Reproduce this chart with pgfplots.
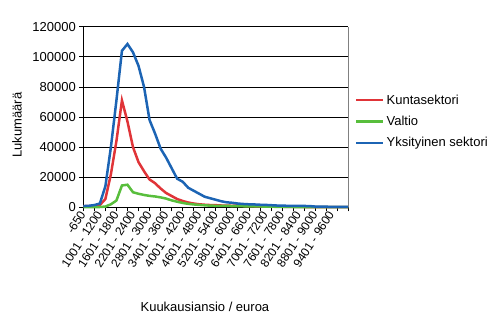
\documentclass[border=0pt]{standalone}
\usepackage{fontspec}
\setmainfont{Liberation Sans}
\usepackage{pgfplots}
\pgfplotsset{compat=1.18}
\usepackage{pgfplotstable}
\definecolor{cred}{RGB}{224,52,56}
\definecolor{cgreen}{RGB}{88,190,60}
\definecolor{cblue}{RGB}{28,100,180}
\pgfplotstableread{
idx kunta valtio yks
0 800 100 800
1 700 100 1000
2 800 100 1500
3 1500 200 2500
4 5500 500 14000
5 22000 2000 40000
6 44000 4500 71000
7 71000 14500 104000
8 57000 15000 108500
9 40000 10000 103000
10 30000 9000 94000
11 24000 8200 80000
12 18500 7600 58000
13 16000 7200 49000
14 12500 6600 39000
15 9500 5800 33000
16 7500 4600 26000
17 5500 3700 19000
18 4200 2900 17000
19 3200 2300 13000
20 2500 1900 11000
21 2000 1600 9000
22 1700 1300 7000
23 1500 1100 6000
24 1400 1000 5000
25 1200 950 4000
26 1100 900 3300
27 1000 850 3000
28 1300 800 2500
29 900 700 2200
30 800 650 2000
31 700 600 1900
32 600 550 1700
33 500 500 1600
34 500 400 1400
35 400 350 1200
36 400 300 1100
37 300 250 1000
38 300 200 1000
39 300 200 900
40 200 150 900
41 200 150 800
42 200 100 500
43 150 100 400
44 150 100 400
45 100 80 300
46 100 80 300
47 100 50 300
48 100 50 300
}\data
\begin{document}
\begin{tikzpicture}
\useasboundingbox (0,0) rectangle (497pt,325pt);
\begin{axis}[
  at={(83.3pt,117.7pt)}, anchor=south west,
  scale only axis, width=265pt, height=180.6pt,
  xmin=0, xmax=48, ymin=0, ymax=120000,
  axis lines*=left,
  axis line style={black, line width=0.8pt},
  ymajorgrids, grid style={black, line width=0.8pt},
  ytick={0,20000,40000,60000,80000,100000,120000},
  yticklabels={0,20000,40000,60000,80000,100000,120000},
  xtick={0,2,...,48},
  xticklabels={},
  extra x ticks={0,3,...,45},
  extra x tick labels={-650,1001 - 1200,1601 - 1800,2201 - 2400,2801 - 3000,3401 - 3600,4001 - 4200,4601 - 4800,5201 - 5400,5801 - 6000,6401 - 6600,7001 - 7200,7601 - 7800,8201 - 8400,8801 - 9000,9401 - 9600},
  extra x tick style={major tick style={draw=none}},
  tick align=outside,
  major tick length=4pt,
  tick style={black, line width=0.8pt},
  every tick label/.append style={font=\fontsize{13}{15}\selectfont},
  xticklabel style={rotate=57, anchor=east, inner sep=1pt, font=\fontsize{12}{14}\selectfont},
  scaled y ticks=false,
  clip=false,
  xlabel={Kuukausiansio / euroa},
  ylabel={Lukumäärä},
  label style={font=\fontsize{13}{15}\selectfont},
  xlabel style={at={(axis description cs:0.459,-0.552)}, anchor=center},
  ylabel style={at={(axis description cs:-0.25,0.456)}, anchor=center, rotate=0},
  legend style={at={(axis description cs:1.025,0.475)}, anchor=west, draw=none, fill=none, font=\fontsize{13}{15}\selectfont, row sep=6.5pt, inner sep=0pt},
  legend cell align=left,
  legend image code/.code={\draw[#1] (0pt,0pt) -- (27pt,0pt);},
]
\addplot[cred, line width=2.5pt] table[x=idx, y=kunta] {\data};
\addlegendentry{Kuntasektori}
\addplot[cgreen, line width=2.5pt] table[x=idx, y=valtio] {\data};
\addlegendentry{Valtio}
\addplot[cblue, line width=2.5pt] table[x=idx, y=yks] {\data};
\addlegendentry{Yksityinen sektori}
\draw[gray, line width=0.8pt] (rel axis cs:1,0) -- (rel axis cs:1,1);
\end{axis}
\end{tikzpicture}
\end{document}
